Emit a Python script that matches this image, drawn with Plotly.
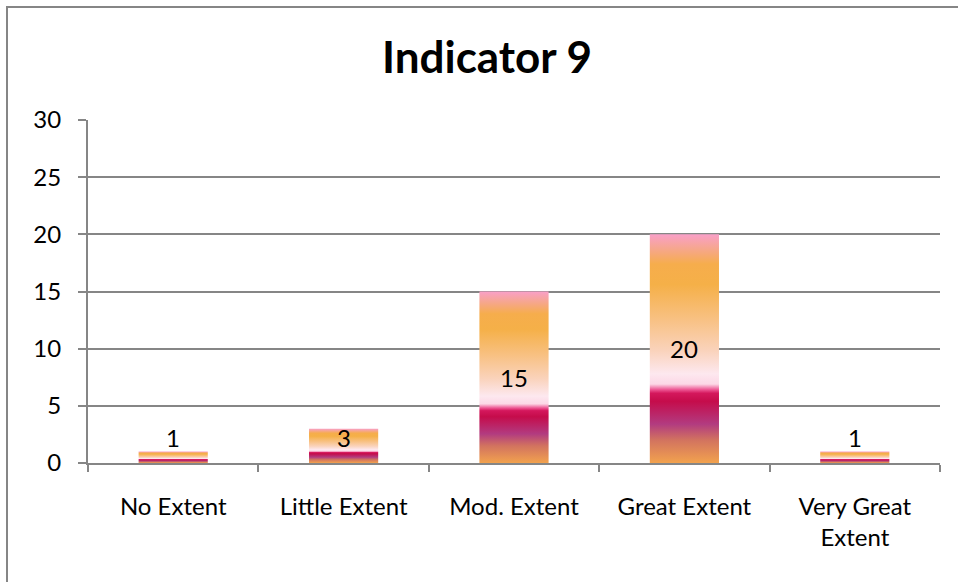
import plotly.graph_objects as go

# ---- data ----
categories = ["No Extent", "Little Extent", "Mod. Extent", "Great Extent", "Very Great<br>Extent"]
values = [1, 3, 15, 20, 1]
y_ticks = [0, 5, 10, 15, 20, 25, 30]
title_text = "Indicator 9"

# vertical gradient (bottom -> top) like the Excel preset fill
gradient = [
    [0.00, "#F2A24E"],
    [0.10, "#D2735F"],
    [0.17, "#B23B80"],
    [0.27, "#C50C4B"],
    [0.305, "#D4175C"],
    [0.32, "#EC5290"],
    [0.345, "#FCD8E6"],
    [0.39, "#FDE8EF"],
    [0.49, "#FAD3BC"],
    [0.635, "#F8C080"],
    [0.78, "#F5B048"],
    [0.87, "#F6AD4C"],
    [0.94, "#F6A690"],
    [1.00, "#F9A0C8"],
]

BAR_HALF = 0.203
FONT = "Lato, Carlito, Calibri, sans-serif"
FS = 24
BORDER = "#868686"

fig = go.Figure()
for i, (c, v) in enumerate(zip(categories, values)):
    fig.add_trace(go.Scatter(
        x=[i - BAR_HALF, i + BAR_HALF, i + BAR_HALF, i - BAR_HALF, i - BAR_HALF],
        y=[0, 0, v, v, 0],
        mode="lines",
        line=dict(width=0),
        fill="toself",
        fillgradient=dict(type="vertical", colorscale=gradient),
        hoverinfo="skip",
        showlegend=False,
    ))
    fig.add_annotation(
        x=i, y=max(v / 2, 2.2), text=str(v), showarrow=False,
        font=dict(family=FONT, size=FS, color="#000000"),
        xanchor="center", yanchor="middle",
    )

fig.update_layout(
    width=958, height=582,
    margin=dict(l=88, r=18, t=120, b=119),
    paper_bgcolor="white", plot_bgcolor="white",
    title=dict(text="<b>" + title_text + "</b>", x=487 / 958, xanchor="center",
               y=1 - 58 / 582, yanchor="middle",
               font=dict(family=FONT, size=44, color="#000000")),
    font=dict(family=FONT, size=FS, color="#000000"),
    showlegend=False,
    shapes=[
        # chart-area border (top and left edges visible in the frame)
        dict(type="line", xref="paper", yref="paper",
             x0=(6 - 88) / 852, x1=(958 - 88) / 852,
             y0=(463 - 7) / 343, y1=(463 - 7) / 343,
             line=dict(color=BORDER, width=2), layer="below"),
        dict(type="line", xref="paper", yref="paper",
             x0=(7 - 88) / 852, x1=(7 - 88) / 852,
             y0=(463 - 6) / 343, y1=(463 - 582) / 343,
             line=dict(color=BORDER, width=2), layer="below"),
    ],
)

fig.update_xaxes(
    range=[-0.5, len(categories) - 0.5],
    tickmode="array", tickvals=list(range(len(categories))), ticktext=categories,
    ticks="", showgrid=False, zeroline=False,
    showline=True, linecolor=BORDER, linewidth=2,
    minor=dict(tick0=0.5, dtick=1, ticks="outside", ticklen=7, tickcolor=BORDER,
               tickwidth=2, showgrid=False),
    tickfont=dict(family=FONT, size=FS),
    ticklabelstandoff=21,
    fixedrange=True,
)
fig.update_yaxes(
    range=[0, 30], tickmode="array", tickvals=y_ticks,
    ticks="outside", ticklen=8, tickcolor=BORDER, tickwidth=2,
    showgrid=True, gridcolor=BORDER, gridwidth=2,
    zeroline=False, showline=True, linecolor=BORDER, linewidth=2,
    tickfont=dict(family=FONT, size=FS),
    ticklabelstandoff=12,
    fixedrange=True,
)

fig.write_html(
    "out.html",
    config={"displayModeBar": False},
    post_script=(
        "document.documentElement.style.overflow='hidden';"
        "document.body.style.margin='0px';"
        "document.body.style.overflow='hidden';"
    ),
)
